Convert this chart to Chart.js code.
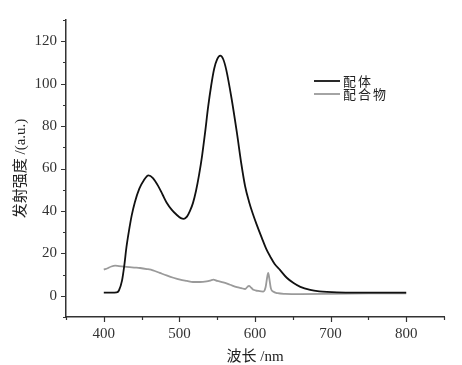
<!DOCTYPE html>
<html>
<head>
<meta charset="utf-8">
<script src="https://cdn.jsdelivr.net/npm/chart.js@4"></script>
<style>
  body { margin: 0; background: #fff; }
  #wrap { width: 462px; height: 365px; }
</style>
</head>
<body>
<div id="wrap"><canvas id="spec" width="462" height="365"></canvas></div>
<script>
// 配体 (ligand) emission spectrum
var ligandWl = [400, 410, 417, 420, 424, 427, 430, 433, 437, 441, 447, 453, 459, 465, 472, 478, 483, 490, 496, 502, 506, 510, 514, 518, 522, 526, 530, 534, 538, 542, 546, 550, 554, 558, 562, 569, 576, 582, 587, 592, 597, 602, 609, 615, 620, 626, 633, 642, 651, 660, 673, 685, 695, 720, 750, 800];
var ligandI = [1.5, 1.5, 1.6, 2.5, 7, 14, 23, 30, 38, 44, 50.5, 54.5, 56.8, 55.5, 51.7, 47.5, 44, 40.5, 38.3, 36.6, 36.3, 37.3, 40, 43.8, 49.5, 57, 66, 77, 89, 99, 107, 111.5, 113.2, 111.5, 106.5, 93, 77, 62, 51.5, 44.5, 38.8, 33.8, 27.3, 22, 18.6, 15, 12.2, 8.5, 6, 4.2, 2.8, 2.1, 1.8, 1.5, 1.5, 1.5];

// 配合物 (complex) emission spectrum
var complexWl = [400, 405, 410, 415, 420, 430, 440, 448, 457, 465, 474, 483, 492, 501, 510, 518, 527, 536, 541, 545, 550, 558, 567, 576, 582, 587, 590, 592, 595, 598, 604, 611, 614, 616, 617.5, 619, 621, 624, 630, 640, 660, 700, 750, 800];
var complexI = [12.3, 13, 13.8, 14.2, 14, 13.6, 13.3, 13.1, 12.6, 12, 10.8, 9.6, 8.5, 7.6, 7, 6.5, 6.5, 6.8, 7.2, 7.6, 7, 6.3, 5.2, 4.1, 3.6, 3.2, 4.2, 4.7, 3.8, 2.8, 2.3, 2, 4, 8.5, 10.8, 8, 3.5, 2, 1.2, 0.9, 0.8, 0.9, 1.1, 1.2];

var seriesNames = ["配体", "配合物"];
var xLabels = [400, 500, 600, 700, 800];
var yLabels = [0, 20, 40, 60, 80, 100, 120];

function toPoints(xs, ys) {
  return xs.map(function (x, i) { return { x: x, y: ys[i] }; });
}

var axisColor = "#333";
var labelFont = { family: "'Liberation Serif', 'Noto Sans CJK SC', serif", size: 15 };

// tick marks: long on labelled values, short in between, pointing outwards
var tickMarks = {
  id: "tickMarks",
  afterDraw: function (chart) {
    var ctx = chart.ctx, area = chart.chartArea;
    ctx.save();
    ctx.strokeStyle = axisColor;
    ctx.lineWidth = 1.2;
    ctx.beginPath();
    chart.scales.x.ticks.forEach(function (t) {
      var px = Math.round(chart.scales.x.getPixelForValue(t.value)) + 0.5;
      var len = xLabels.indexOf(t.value) >= 0 ? 5 : 3;
      ctx.moveTo(px, area.bottom);
      ctx.lineTo(px, area.bottom + len);
    });
    chart.scales.y.ticks.forEach(function (t) {
      var py = Math.round(chart.scales.y.getPixelForValue(t.value)) + 0.5;
      var len = yLabels.indexOf(t.value) >= 0 ? 5 : 3;
      ctx.moveTo(area.left, py);
      ctx.lineTo(area.left - len, py);
    });
    ctx.stroke();
    ctx.restore();
  }
};

// legend sitting inside the plot, upper right
var innerLegend = {
  id: "innerLegend",
  afterDraw: function (chart) {
    var ctx = chart.ctx;
    ctx.save();
    ctx.font = "13px 'Noto Sans CJK SC', sans-serif";
    ctx.letterSpacing = "2px";
    ctx.textBaseline = "middle";
    chart.data.datasets.forEach(function (ds, i) {
      var y = 81 + i * 13;
      ctx.strokeStyle = ds.borderColor;
      ctx.lineWidth = ds.borderWidth;
      ctx.beginPath();
      ctx.moveTo(314, y);
      ctx.lineTo(340, y);
      ctx.stroke();
      ctx.fillStyle = "#222";
      ctx.fillText(ds.label, 343, y);
    });
    ctx.restore();
  }
};

new Chart(document.getElementById("spec"), {
  type: "line",
  data: {
    datasets: [
      {
        label: seriesNames[0],
        data: toPoints(ligandWl, ligandI),
        borderColor: "#111",
        borderWidth: 1.8,
        pointRadius: 0,
        cubicInterpolationMode: "monotone"
      },
      {
        label: seriesNames[1],
        data: toPoints(complexWl, complexI),
        borderColor: "#9a9a9a",
        borderWidth: 1.8,
        pointRadius: 0,
        cubicInterpolationMode: "monotone"
      }
    ]
  },
  options: {
    responsive: false,
    animation: false,
    layout: { padding: { top: 20, right: 18, left: 0, bottom: 0 } },
    scales: {
      x: {
        type: "linear",
        min: 350,
        max: 850,
        afterFit: function (s) { s.height = 48; },
        border: { color: axisColor, width: 1.5 },
        grid: { drawOnChartArea: false, drawTicks: true, tickLength: 5, color: "rgba(0,0,0,0)" },
        ticks: {
          stepSize: 50,
          autoSkip: false,
          maxRotation: 0,
          padding: 3,
          color: "#333",
          font: labelFont,
          callback: function (v) { return xLabels.indexOf(v) >= 0 ? String(v) : ""; }
        },
        title: {
          display: true,
          text: "波长 /nm",
          color: "#222",
          font: { family: labelFont.family, size: 15, lineHeight: 1.1 },
          padding: { top: 0, bottom: 0 }
        }
      },
      y: {
        min: -10,
        max: 130,
        afterFit: function (s) { s.width = 66; },
        border: { color: axisColor, width: 1.5 },
        grid: { drawOnChartArea: false, drawTicks: true, tickLength: 5, color: "rgba(0,0,0,0)" },
        ticks: {
          stepSize: 10,
          autoSkip: false,
          padding: 4,
          color: "#333",
          font: labelFont,
          callback: function (v) { return yLabels.indexOf(v) >= 0 ? String(v) : ""; }
        },
        title: {
          display: true,
          text: "发射强度 /(a.u.)",
          color: "#222",
          font: { family: labelFont.family, size: 15, lineHeight: 1.2 },
          padding: { top: 12, bottom: 0 }
        }
      }
    },
    plugins: {
      legend: { display: false },
      tooltip: { enabled: false }
    }
  },
  plugins: [tickMarks, innerLegend]
});
</script>
</body>
</html>
